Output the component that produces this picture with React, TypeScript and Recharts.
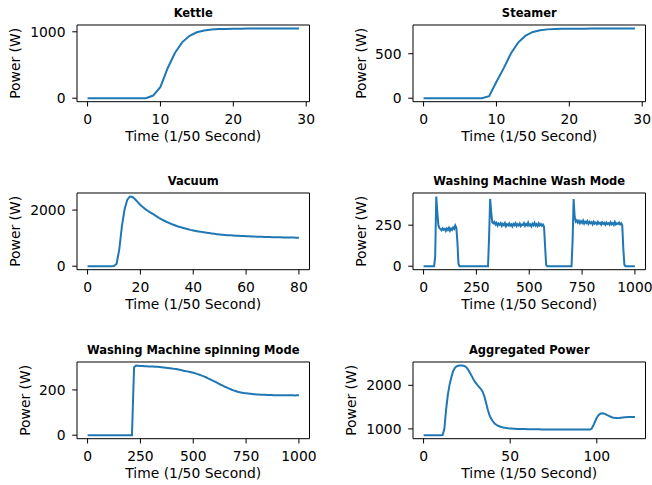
import { Label, Line, LineChart, XAxis, YAxis } from "recharts";

// Power readings, one sample per time step (1/50 s units)
const kettlePower = [
  0, 0, 0, 0, 0, 0, 0, 0, 0, 40,
  170, 455, 685, 845, 940, 993, 1020, 1035, 1041, 1044,
  1046, 1047, 1048, 1048, 1049, 1049, 1050, 1050, 1050, 1050,
];

const steamerPower = [
  0, 0, 0, 0, 0, 0, 0, 0, 0, 22,
  185, 338, 505, 628, 703, 745, 765, 774, 778, 780,
  781, 782, 782, 783, 783, 783, 784, 784, 784, 784,
];

const vacuumPower = [
  0, 0, 0, 0, 0, 0, 0, 0, 0, 0,
  5, 90, 600, 1430, 2020, 2360, 2485, 2470, 2385, 2285,
  2180, 2100, 2025, 1960, 1900, 1845, 1785, 1725, 1670, 1620,
  1575, 1535, 1495, 1460, 1425, 1395, 1368, 1342, 1318, 1295,
  1275, 1257, 1240, 1224, 1208, 1193, 1180, 1167, 1155, 1143,
  1132, 1123, 1115, 1107, 1100, 1094, 1088, 1083, 1078, 1073,
  1069, 1065, 1061, 1057, 1053, 1050, 1047, 1044, 1041, 1038,
  1036, 1034, 1031, 1029, 1027, 1025, 1023, 1021, 1019, 1017,
  1015,
];

// sampled every 5 steps
const washPower = [
  0, 0, 0, 0, 0, 0, 0, 0, 0, 0,
  0, 60, 425, 330, 250, 232, 226, 219, 231, 222,
  228, 215, 230, 221, 234, 216, 229, 221, 236, 228,
  249, 236, 150, 15, 0, 0, 0, 0, 0, 0,
  0, 0, 0, 0, 0, 0, 0, 0, 0, 0,
  0, 0, 0, 0, 0, 0, 0, 0, 0, 0,
  0, 0, 180, 410, 330, 268, 262, 270, 255, 264,
  248, 260, 252, 262, 246, 258, 250, 263, 244, 256,
  249, 261, 247, 255, 243, 258, 250, 262, 245, 256,
  248, 260, 244, 254, 251, 263, 246, 257, 249, 266,
  248, 255, 243, 259, 250, 264, 247, 256, 245, 261,
  249, 257, 246, 254, 240, 120, 8, 0, 0, 0,
  0, 0, 0, 0, 0, 0, 0, 0, 0, 0,
  0, 0, 0, 0, 0, 0, 0, 0, 0, 0,
  0, 150, 410, 300, 272, 280, 266, 276, 262, 274,
  264, 278, 260, 271, 263, 275, 258, 270, 262, 268,
  255, 271, 260, 266, 256, 270, 259, 265, 254, 268,
  258, 264, 252, 266, 257, 262, 253, 268, 256, 263,
  252, 270, 255, 262, 258, 266, 254, 262, 250, 110,
  10, 0, 0, 0, 0, 0, 0, 0, 0, 0,
  0,
];

// sampled every 10 steps
const spinPower = [
  0, 0, 0, 0, 0, 0, 0, 0, 0, 0,
  0, 0, 0, 0, 0, 0, 0, 0, 0, 0,
  0, 0, 300, 308, 307, 306, 306, 305, 305, 304,
  304, 303, 302, 302, 301, 300, 299, 298, 297, 296,
  295, 293, 292, 290, 288, 286, 284, 282, 280, 278,
  276, 273, 270, 267, 263, 260, 256, 251, 247, 242,
  238, 233, 228, 223, 219, 214, 210, 206, 202, 198,
  195, 192, 190, 188, 186, 185, 184, 183, 182, 181,
  180, 180, 179, 179, 179, 178, 178, 178, 177, 177,
  177, 177, 176, 177, 176, 176, 176, 176, 175, 176,
  176,
];

const aggregatedPower = [
  855, 855, 855, 855, 855, 855, 855, 855, 855, 855,
  855, 858, 1000, 1440, 1780, 2010, 2180, 2320, 2395, 2435,
  2450, 2455, 2455, 2450, 2435, 2400, 2340, 2270, 2200, 2120,
  2060, 2010, 1965, 1920, 1860, 1760, 1610, 1450, 1320, 1235,
  1175, 1125, 1095, 1072, 1055, 1043, 1033, 1025, 1019, 1014,
  1010, 1007, 1004, 1002, 1000, 999, 998, 997, 996, 995,
  994, 993, 992, 991, 990, 990, 989, 989, 988, 988,
  987, 987, 987, 986, 986, 986, 986, 985, 985, 985,
  985, 985, 985, 985, 985, 985, 985, 985, 985, 985,
  985, 985, 985, 985, 985, 985, 985, 1005, 1075, 1170,
  1255, 1315, 1348, 1358, 1352, 1338, 1318, 1297, 1278, 1263,
  1253, 1248, 1247, 1250, 1256, 1262, 1266, 1269, 1270, 1271,
  1271, 1270, 1270,
];

const shortTimeTicks = [0, 10, 20, 30];
const vacuumTimeTicks = [0, 20, 40, 60, 80];
const longTimeTicks = [0, 250, 500, 750, 1000];
const aggregatedTimeTicks = [0, 50, 100];

const FONT = '"DejaVu Sans", sans-serif';
const BLUE = "#1f77b4";
const PLOT_W = 232.5;
const PLOT_H = 76.7;
const Y_AXIS_W = 77;
const X_AXIS_H = 46;
const TOP = 25;
const RIGHT = 8;
const TICK_FONT = 13.9;

const spine = { stroke: "#000", strokeWidth: 1 };

// matplotlib-style autoscale: 5% padding on each side
function padded(values: number[]): [number, number] {
  const lo = Math.min(...values);
  const hi = Math.max(...values);
  const pad = (hi - lo) * 0.05;
  return [lo - pad, hi + pad];
}

interface PanelProps {
  title: string;
  power: number[];
  step: number;
  xTicks: number[];
  yTicks: number[];
  left: number;
  top: number;
}

function Panel({ title, power, step, xTicks, yTicks, left, top }: PanelProps) {
  const data = power.map((p, i) => ({ t: i * step, p }));
  const xDomain = padded(data.map((d) => d.t));
  const yDomain = padded(power);
  // y label sits further out when the tick labels are wider
  const widest = Math.max(...yTicks.map((v) => String(v).length));
  const labelGap = 22 + widest * 9.9;

  // the top/right frame axes are 1px thick so recharts still draws them
  return (
    <div style={{ position: "absolute", left: left - Y_AXIS_W, top: top - TOP }}>
      <LineChart
        width={Y_AXIS_W + PLOT_W + RIGHT}
        height={TOP + PLOT_H + X_AXIS_H}
        data={data}
        margin={{ top: TOP - 1, right: RIGHT - 1, bottom: 0, left: 0 }}
        style={{ overflow: "visible" }}
      >
        <XAxis
          xAxisId="top"
          orientation="top"
          type="number"
          dataKey="t"
          domain={xDomain}
          height={1}
          tick={false}
          tickLine={false}
          axisLine={spine}
        >
          <Label
            value={title}
            position="top"
            offset={7.3}
            fill="#000"
            style={{ fontSize: 11.5, fontWeight: "bold", fill: "#000" }}
          />
        </XAxis>
        <YAxis
          yAxisId="right"
          orientation="right"
          type="number"
          domain={yDomain}
          width={1}
          tick={false}
          tickLine={false}
          axisLine={spine}
        />
        <XAxis
          type="number"
          dataKey="t"
          domain={xDomain}
          ticks={xTicks}
          interval={0}
          height={X_AXIS_H}
          tickSize={4.8}
          tickMargin={7.6}
          tick={{ fill: "#000", fontSize: TICK_FONT }}
          tickLine={spine}
          axisLine={spine}
        >
          <Label
            value="Time (1/50 Second)"
            position="insideBottom"
            offset={6.7}
            fill="#000"
            style={{ fontSize: TICK_FONT, fill: "#000" }}
          />
        </XAxis>
        <YAxis
          type="number"
          domain={yDomain}
          ticks={yTicks}
          interval={0}
          width={Y_AXIS_W}
          tickSize={4.8}
          tickMargin={6.7}
          tick={{ fill: "#000", fontSize: TICK_FONT }}
          tickLine={spine}
          axisLine={spine}
        >
          <Label
            value="Power (W)"
            position="insideLeft"
            angle={-90}
            offset={Y_AXIS_W - labelGap}
            fill="#000"
            style={{ fontSize: TICK_FONT, fill: "#000", textAnchor: "middle" }}
          />
        </YAxis>
        <Line
          type="linear"
          dataKey="p"
          stroke={BLUE}
          strokeWidth={2}
          dot={false}
          activeDot={false}
          isAnimationActive={false}
        />
      </LineChart>
    </div>
  );
}

export default function App() {
  return (
    <div
      style={{
        position: "absolute",
        left: 0,
        top: 0,
        width: 652,
        height: 485,
        background: "#fff",
        fontFamily: FONT,
      }}
    >
      <Panel title="Kettle" power={kettlePower} step={1} xTicks={shortTimeTicks} yTicks={[0, 1000]} left={77.3} top={25} />
      <Panel title="Steamer" power={steamerPower} step={1} xTicks={shortTimeTicks} yTicks={[0, 500]} left={413.3} top={25} />
      <Panel title="Vacuum" power={vacuumPower} step={1} xTicks={vacuumTimeTicks} yTicks={[0, 2000]} left={77.3} top={193.3} />
      <Panel title="Washing Machine Wash Mode" power={washPower} step={5} xTicks={longTimeTicks} yTicks={[0, 250]} left={413.3} top={193.3} />
      <Panel title="Washing Machine spinning Mode" power={spinPower} step={10} xTicks={longTimeTicks} yTicks={[0, 200]} left={77.3} top={362} />
      <Panel title="Aggregated Power" power={aggregatedPower} step={1} xTicks={aggregatedTimeTicks} yTicks={[1000, 2000]} left={413.3} top={362} />
    </div>
  );
}
